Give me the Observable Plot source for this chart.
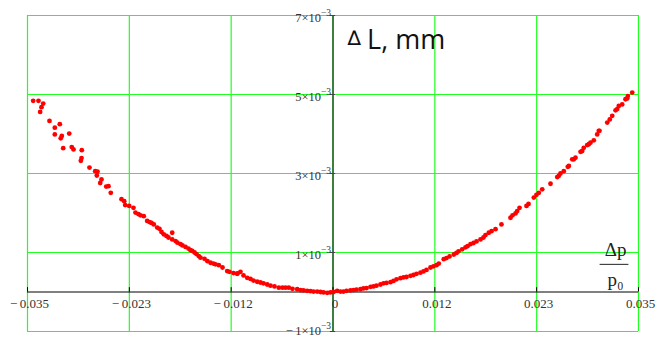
<!DOCTYPE html>
<html>
<head>
<meta charset="utf-8">
<script src="https://cdn.jsdelivr.net/npm/d3@7"></script>
<script src="https://cdn.jsdelivr.net/npm/@observablehq/plot@0.6"></script>
<style>
  html, body { margin: 0; padding: 0; background: #ffffff; }
  #chart { width: 667px; height: 338px; }
</style>
</head>
<body>
<div id="chart"></div>
<script>
// Δp/p0 values
const dpRatio = [
  -0.03435, -0.03374, -0.03320, -0.03340, -0.03355, -0.03248, -0.03130, -0.03187, -0.03187, -0.03107,
  -0.03119, -0.03022, -0.03091, -0.02993, -0.02973, -0.02878, -0.02881, -0.02889, -0.02790, -0.02724,
  -0.02698, -0.02706, -0.02652, -0.02667, -0.02598, -0.02572, -0.02546, -0.02423, -0.02392, -0.02381,
  -0.02335, -0.02286, -0.02263, -0.02228, -0.02205, -0.02168, -0.02129, -0.02102, -0.02079, -0.02053,
  -0.02014, -0.01988, -0.01965, -0.01939, -0.01908, -0.01885, -0.01842, -0.01842, -0.01804, -0.01782,
  -0.01747, -0.01724, -0.01690, -0.01656, -0.01633, -0.01613, -0.01587, -0.01564, -0.01538, -0.01518,
  -0.01472, -0.01438, -0.01403, -0.01369, -0.01346, -0.01308, -0.01266, -0.01212, -0.01186, -0.01140,
  -0.01098, -0.01094, -0.01060, -0.01025, -0.00983, -0.00945, -0.00911, -0.00868, -0.00831, -0.00796,
  -0.00754, -0.00716, -0.00670, -0.00621, -0.00579, -0.00544, -0.00506, -0.00464, -0.00410, -0.00372,
  -0.00338, -0.00296, -0.00258, -0.00223, -0.00181, -0.00143, -0.00109, -0.00066, -0.00029, 0.00006,
  0.00048, 0.00086, 0.00120, 0.00155, 0.00200, 0.00235, 0.00269, 0.00315, 0.00349, 0.00384,
  0.00430, 0.00464, 0.00498, 0.00544, 0.00579, 0.00613, 0.00659, 0.00693, 0.00728, 0.00773,
  0.00808, 0.00842, 0.00888, 0.00922, 0.00957, 0.01002, 0.01037, 0.01071, 0.01117, 0.01151,
  0.01186, 0.01212, 0.01269, 0.01300, 0.01335, 0.01384, 0.01415, 0.01438, 0.01480, 0.01518,
  0.01541, 0.01575, 0.01610, 0.01644, 0.01690, 0.01724, 0.01747, 0.01785, 0.01816, 0.01862,
  0.01930, 0.02034, 0.02057, 0.02091, 0.02110, 0.02137, 0.02217, 0.02240, 0.02301, 0.02331,
  0.02358, 0.02397, 0.02492, 0.02569, 0.02587, 0.02606, 0.02644, 0.02690, 0.02702, 0.02741,
  0.02759, 0.02778, 0.02836, 0.02855, 0.02873, 0.02912, 0.02931, 0.02950, 0.02988, 0.03027,
  0.03045, 0.03053, 0.03142, 0.03171, 0.03199, 0.03237, 0.03256, 0.03274, 0.03313, 0.03351,
  0.03371, 0.03378, 0.03428
];
// ΔL values, mm
const dL = [
  0.00484, 0.00484, 0.00477, 0.00468, 0.00456, 0.00433, 0.00425, 0.00416, 0.00399, 0.00395,
  0.00389, 0.00401, 0.00364, 0.00367, 0.00361, 0.00359, 0.00339, 0.00332, 0.00315, 0.00306,
  0.00305, 0.00295, 0.00285, 0.00276, 0.00267, 0.00268, 0.00251, 0.00235, 0.00230, 0.00220,
  0.00218, 0.00213, 0.00201, 0.00197, 0.00194, 0.00192, 0.00180, 0.00177, 0.00175, 0.00171,
  0.00163, 0.00160, 0.00152, 0.00146, 0.00142, 0.00138, 0.00150, 0.00133, 0.00129, 0.00125,
  0.00121, 0.00118, 0.00114, 0.00110, 0.00106, 0.00104, 0.00100, 0.00096, 0.00091, 0.00087,
  0.00084, 0.00078, 0.00074, 0.00072, 0.00070, 0.00068, 0.00062, 0.00053, 0.00051, 0.00048,
  0.00046, 0.00047, 0.00051, 0.00042, 0.00036, 0.00033, 0.00029, 0.00026, 0.00024, 0.00022,
  0.00019, 0.00016, 0.00014, 0.00011, 0.00011, 0.00011, 0.00011, 0.00008, 0.00007, 0.00005,
  0.00004, 0.00003, 0.00002, 0.00001, 0.00001, 0.00000, -0.00001, -0.00002, -0.00001, 0.00000,
  0.00003, 0.00001, 0.00001, 0.00003, 0.00004, 0.00005, 0.00006, 0.00007, 0.00009, 0.00010,
  0.00013, 0.00014, 0.00016, 0.00019, 0.00022, 0.00023, 0.00025, 0.00028, 0.00032, 0.00035,
  0.00037, 0.00038, 0.00041, 0.00043, 0.00046, 0.00049, 0.00052, 0.00056, 0.00062, 0.00065,
  0.00068, 0.00072, 0.00083, 0.00086, 0.00090, 0.00095, 0.00099, 0.00103, 0.00108, 0.00113,
  0.00116, 0.00121, 0.00124, 0.00128, 0.00133, 0.00138, 0.00144, 0.00150, 0.00154, 0.00159,
  0.00171, 0.00188, 0.00194, 0.00199, 0.00205, 0.00213, 0.00218, 0.00223, 0.00239, 0.00246,
  0.00251, 0.00260, 0.00274, 0.00291, 0.00294, 0.00300, 0.00306, 0.00317, 0.00319, 0.00336,
  0.00336, 0.00340, 0.00355, 0.00357, 0.00365, 0.00372, 0.00374, 0.00378, 0.00384, 0.00399,
  0.00408, 0.00408, 0.00429, 0.00437, 0.00446, 0.00460, 0.00463, 0.00471, 0.00475, 0.00488,
  0.00490, 0.00496, 0.00505
];
// axis ticks
const xTicks = [-0.035, -0.035 * 2 / 3, -0.035 / 3, 0, 0.035 / 3, 0.035 * 2 / 3, 0.035];
const xTickLabels = ["−\u20090.035", "−\u20090.023", "−\u20090.012", "0", "0.012", "0.023", "0.035"];
const yTicks = [-0.001, 0.001, 0.003, 0.005, 0.007];
const yTickMantissa = ["−\u20091×10", "1×10", "3×10", "5×10", "7×10"];
const yTickExponent = ["−3", "−3", "−3", "−3", "−3"];

const points = dpRatio.map((x, i) => ({x, y: dL[i]}));
const xt = xTicks.map((v, i) => ({v, label: xTickLabels[i]}));
const yt = yTicks.map((v, i) => ({v, base: yTickMantissa[i], exp: yTickExponent[i]}));
const ytUpper = yt.filter(d => d.v > 0);
const ytLower = yt.filter(d => d.v < 0);

const green = "#22ff22";
const serif = "'Liberation Serif', 'Times New Roman', serif";

const chart = Plot.plot({
  width: 667,
  height: 338,
  marginLeft: 27,
  marginRight: 29,
  marginTop: 15,
  marginBottom: 7,
  style: {background: "#ffffff", overflow: "visible"},
  x: {domain: [-0.035, 0.035], axis: null},
  y: {domain: [-0.001, 0.007], axis: null},
  marks: [
    Plot.ruleX(xTicks, {stroke: green, strokeWidth: 1.2}),
    Plot.ruleY(yTicks, {stroke: green, strokeWidth: 1.2}),
    Plot.ruleY([0], {stroke: "#000", strokeWidth: 1}),
    Plot.ruleX([0], {stroke: "#000", strokeWidth: 1}),
    Plot.ruleX(xTicks, {y1: 0, y2: 0.00011, stroke: "#000", strokeWidth: 1}),
    Plot.ruleY(yTicks, {x1: -0.0003, x2: 0.0003, stroke: "#444", strokeWidth: 1}),
    Plot.text(xt, {x: "v", y: 0, text: "label", dy: 12, dx: 2, fontFamily: serif, fontSize: 13, fill: "#333"}),
    Plot.text(ytUpper, {x: 0, y: "v", text: "base", dx: -12, dy: 2, textAnchor: "end", fontFamily: serif, fontSize: 12.5, fill: "#333"}),
    Plot.text(ytUpper, {x: 0, y: "v", text: "exp", dx: -2, dy: -3, textAnchor: "end", fontFamily: serif, fontSize: 9.5, fill: "#333"}),
    Plot.text(ytLower, {x: 0, y: "v", text: "base", dx: -12, dy: -1, textAnchor: "end", fontFamily: serif, fontSize: 12.5, fill: "#333"}),
    Plot.text(ytLower, {x: 0, y: "v", text: "exp", dx: -2, dy: -6, textAnchor: "end", fontFamily: serif, fontSize: 9.5, fill: "#333"}),
    Plot.dot(points, {x: "x", y: "y", r: 2.4, fill: "#ff0000", stroke: "none"}),
    // axis titles
    Plot.text([0], {x: 0.00165, y: 0.0063, text: () => "∆", textAnchor: "start", fontFamily: "'DejaVu Sans', sans-serif", fontSize: 20, fill: "#111", lineAnchor: "bottom", dy: 2}),
    Plot.text([0], {x: 0.0039, y: 0.0063, text: () => "L, mm", textAnchor: "start", fontFamily: "'Open Sans', sans-serif", fontSize: 27, fill: "#111", lineAnchor: "bottom", dy: 6}),
    Plot.text([0], {x: 0.03237, y: 0.00107, text: () => "Δp", fontFamily: serif, fontSize: 19, fill: "#222"}),
    Plot.ruleY([0.0007], {x1: 0.03060, x2: 0.03390, stroke: "#222", strokeWidth: 1}),
    Plot.text([0], {x: 0.03237, y: 0.00030, text: () => "p₀", fontFamily: serif, fontSize: 19, fill: "#222"})
  ]
});
document.getElementById("chart").appendChild(chart);
</script>
</body>
</html>
